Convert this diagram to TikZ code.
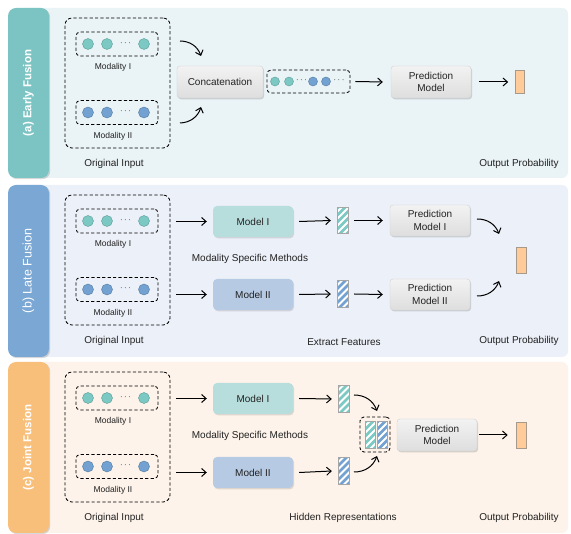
\documentclass[tikz,border=0pt]{standalone}
\usepackage{fontspec}
\setmainfont{Liberation Sans}
\usetikzlibrary{arrows.meta,shadows,calc}
\definecolor{bgA}{HTML}{EAF3F6}
\definecolor{bgB}{HTML}{ECF0F8}
\definecolor{bgC}{HTML}{FDF3EA}
\definecolor{labA}{HTML}{7CC4C3}
\definecolor{labB}{HTML}{7AA7D3}
\definecolor{labC}{HTML}{F8BF7B}
\definecolor{tealc}{HTML}{7CC8C2}
\definecolor{teald}{HTML}{5A9C98}
\definecolor{bluec}{HTML}{73A2D2}
\definecolor{blued}{HTML}{50799F}
\definecolor{modI}{HTML}{B7DEDD}
\definecolor{modII}{HTML}{B6CAE4}
\definecolor{outc}{HTML}{FFCC99}
\definecolor{outd}{HTML}{A89A8A}
\definecolor{txt}{HTML}{222222}
\newcommand\hatchbar[2]{%
  \begin{scope}
    \clip (#1.south west) rectangle (#1.north east);
    \foreach \k in {-35,-28,...,35}
      \draw[white, line width=1.8pt] ($(#1.center)+(\k-20,20)$) -- ($(#1.center)+(\k+20,-20)$);
  \end{scope}
  \draw[#2, line width=0.6pt] (#1.south west) rectangle (#1.north east);}
\begin{document}
\begin{tikzpicture}[x=1pt,y=-1pt,
  every node/.style={font=\fontsize{10}{12.5}\selectfont, text=txt},
  panel/.style={rounded corners=6pt, inner sep=0, minimum width=548pt},
  labbox/.style={rounded corners=8pt, inner sep=0, minimum width=41pt,
     drop shadow={shadow xshift=1.2pt, shadow yshift=-1.2pt, opacity=0.3}},
  labtext/.style={rotate=90, font=\fontsize{11.5}{14}\selectfont\bfseries, text=white},
  dbox/.style={draw=black, dash pattern=on 3.2pt off 2.2pt, line width=0.85pt, rounded corners=7pt, inner sep=0},
  sbox/.style={draw=black, dash pattern=on 3.2pt off 2.2pt, line width=0.85pt, rounded corners=4pt, inner sep=0},
  tc/.style={circle, fill=tealc, draw=teald, line width=0.4pt, minimum size=11pt, inner sep=0},
  bc/.style={circle, fill=bluec, draw=blued, line width=0.4pt, minimum size=11pt, inner sep=0},
  tcs/.style={tc, minimum size=9pt},
  bcs/.style={bc, minimum size=9pt},
  dots/.style={inner sep=0, font=\fontsize{9}{10}\selectfont, text=black},
  mlab/.style={font=\fontsize{8.5}{10}\selectfont},
  arr/.style={-{Straight Barb[length=4.5pt,width=8pt]}, line width=1pt, black},
  gbox/.style={rounded corners=3pt, top color=gray!10, bottom color=gray!26, draw=gray!35, line width=0.4pt,
     align=center, minimum width=80pt, minimum height=32pt, inner sep=0,
     drop shadow={shadow xshift=1pt, shadow yshift=-1.3pt, opacity=0.3}},
  mbox/.style={rounded corners=4pt, minimum width=80pt, minimum height=31pt, inner sep=0,
     drop shadow={shadow xshift=1pt, shadow yshift=-1.3pt, opacity=0.25}},
  outbar/.style={fill=outc, draw=outd, line width=0.6pt, minimum width=9pt, minimum height=23pt, inner sep=0},
  fbar/.style={minimum width=11pt, minimum height=26pt, inner sep=0},
]
\useasboundingbox (0,0) rectangle (571,534);

% ---------- panels ----------
\node[panel, fill=bgA, minimum height=170pt] (a-bg) at (294,93) {};
\node[panel, fill=bgB, minimum height=172pt] (b-bg) at (294,271) {};
\node[panel, fill=bgC, minimum height=171pt] (c-bg) at (294,447.5) {};
\node[labbox, fill=labA, minimum height=170pt] (a-lab) at (28.5,93) {};
\node[labbox, fill=labB, minimum height=172pt] (b-lab) at (28.5,271) {};
\node[labbox, fill=labC, minimum height=171pt] (c-lab) at (28.5,447.5) {};
\node[labtext] (a-labt) at (a-lab) {(a) Early Fusion};
\node[labtext, font=\fontsize{12.5}{14}\selectfont] (b-labt) at (b-lab) {(b) Late Fusion};
\node[labtext] (c-labt) at (c-lab) {(c) Joint Fusion};

% ---------- input blocks ----------
\foreach \p/\dy in {a/0,b/177,c/354}{
  \begin{scope}[shift={(0,\dy)}]
    \node[dbox, minimum width=105pt, minimum height=130pt] (\p-orig) at (117.5,83) {};
    \node[sbox, minimum width=82pt, minimum height=24pt] (\p-m1) at (117,44) {};
    \node[tc] (\p-c11) at (88,44) {};
    \node[tc] (\p-c12) at (107,44) {};
    \node[dots] (\p-d1) at (125.5,43) {$\cdots$};
    \node[tc] (\p-c13) at (144,44) {};
    \node[mlab] (\p-l1) at (113,67) {Modality I};
    \node[sbox, minimum width=82pt, minimum height=24pt] (\p-m2) at (117,112.5) {};
    \node[bc] (\p-c21) at (88,112.5) {};
    \node[bc] (\p-c22) at (107,112.5) {};
    \node[dots] (\p-d2) at (125.5,111.5) {$\cdots$};
    \node[bc] (\p-c23) at (144,112.5) {};
    \node[mlab] (\p-l2) at (113,136) {Modality II};
    \node (\p-ol) at (114,164) {Original Input};
    \node (\p-pl) at (519,164) {Output Probability};
  \end{scope}
}

% ---------- (a) early fusion ----------
\node[gbox, minimum width=86pt] (a-concat) at (220,82) {Concatenation};
\coordinate (a-s1) at (180,41);  \coordinate (a-e1) at (201,56);
\coordinate (a-s2) at (180,123); \coordinate (a-e2) at (201,107);
\draw[arr] (a-s1) to[bend left=35] (a-e1);
\draw[arr] (a-s2) to[bend right=35] (a-e2);
\node[sbox, minimum width=83pt, minimum height=23pt] (a-cat) at (308.5,81.5) {};
\node[tcs] (a-k1) at (275,81.5) {};
\node[tcs] (a-k2) at (289,81.5) {};
\node[dots] (a-k3) at (301.5,80.5) {$\cdots$};
\node[bcs] (a-k4) at (313,81.5) {};
\node[bcs] (a-k5) at (326,81.5) {};
\node[dots] (a-k6) at (339,80.5) {$\cdots$};
\node[gbox] (a-pred) at (431,82) {Prediction\\Model};
\node[outbar] (a-out) at (520,82) {};
\draw[arr] ([xshift=5pt]a-cat.east) -- ([xshift=-8pt]a-pred.west);
\draw[arr] ([xshift=8pt]a-pred.east) -- ([xshift=-7pt]a-out.west);

% ---------- (b) late fusion ----------
\node[mbox, fill=modI] (b-mod1) at (253,221.5) {Model I};
\node[mbox, fill=modII] (b-mod2) at (253,294.5) {Model II};
\node (b-msm) at (250,259) {Modality Specific Methods};
\draw[arr] ([xshift=6pt]b-orig.east |- b-mod1.west) -- ([xshift=-6pt]b-mod1.west);
\draw[arr] ([xshift=6pt]b-orig.east |- b-mod2.west) -- ([xshift=-6pt]b-mod2.west);
\node[fbar, fill=tealc] (b-f1) at (342.5,220.5) {};
\node[fbar, fill=bluec] (b-f2) at (342.5,294) {};
\hatchbar{b-f1}{gray!70}
\hatchbar{b-f2}{gray!70}
\draw[arr] ([xshift=6pt]b-mod1.east) -- ([xshift=-6pt]b-f1.west);
\draw[arr] ([xshift=6pt]b-mod2.east) -- ([xshift=-6pt]b-f2.west);
\node[gbox, minimum height=31pt] (b-p1) at (430,220.5) {Prediction\\Model I};
\node[gbox, minimum height=31pt] (b-p2) at (430,294.5) {Prediction\\Model II};
\draw[arr] ([xshift=6pt]b-f1.east) -- ([xshift=-7pt]b-p1.west);
\draw[arr] ([xshift=6pt]b-f2.east) -- ([xshift=-7pt]b-p2.west);
\node[outbar, minimum width=10pt, minimum height=26pt] (b-out) at (521,260) {};
\coordinate (b-s1) at (477,219); \coordinate (b-e1) at (499,234);
\coordinate (b-s2) at (477,296); \coordinate (b-e2) at (499,281);
\draw[arr] (b-s1) to[bend left=35] (b-e1);
\draw[arr] (b-s2) to[bend right=35] (b-e2);
\node (b-ef) at (344,342) {Extract Features};

% ---------- (c) joint fusion ----------
\node[mbox, fill=modI] (c-mod1) at (253,398.5) {Model I};
\node[mbox, fill=modII] (c-mod2) at (253,472.5) {Model II};
\node (c-msm) at (250,436) {Modality Specific Methods};
\draw[arr] ([xshift=6pt]c-orig.east |- c-mod1.west) -- ([xshift=-6pt]c-mod1.west);
\draw[arr] ([xshift=6pt]c-orig.east |- c-mod2.west) -- ([xshift=-6pt]c-mod2.west);
\node[fbar, fill=tealc] (c-f1) at (343.5,399) {};
\node[fbar, fill=bluec] (c-f2) at (343.5,471) {};
\hatchbar{c-f1}{gray!70}
\hatchbar{c-f2}{gray!70}
\draw[arr] ([xshift=6pt]c-mod1.east) -- ([xshift=-6pt]c-f1.west);
\draw[arr] ([xshift=6pt]c-mod2.east) -- ([xshift=-6pt]c-f2.west);
\node[sbox, minimum width=30pt, minimum height=35pt] (c-cat) at (375,434.5) {};
\node[fbar, minimum width=10pt, fill=tealc] (c-cf1) at (370,435) {};
\node[fbar, minimum width=10pt, fill=bluec] (c-cf2) at (382,435) {};
\hatchbar{c-cf1}{gray!70}
\hatchbar{c-cf2}{gray!70}
\coordinate (c-s1) at (354,395); \coordinate (c-e1) at (377,411);
\coordinate (c-s2) at (354,472); \coordinate (c-e2) at (377,456);
\draw[arr] (c-s1) to[bend left=35] (c-e1);
\draw[arr] (c-s2) to[bend right=35] (c-e2);
\node[gbox] (c-pred) at (437,435) {Prediction\\Model};
\node[outbar, minimum width=10pt, minimum height=26pt] (c-out) at (521,435) {};
\draw[arr] ([xshift=2pt]c-pred.east) -- ([xshift=-8pt]c-out.west);
\node (c-hr) at (343,518) {Hidden Representations};
\end{tikzpicture}
\end{document}
